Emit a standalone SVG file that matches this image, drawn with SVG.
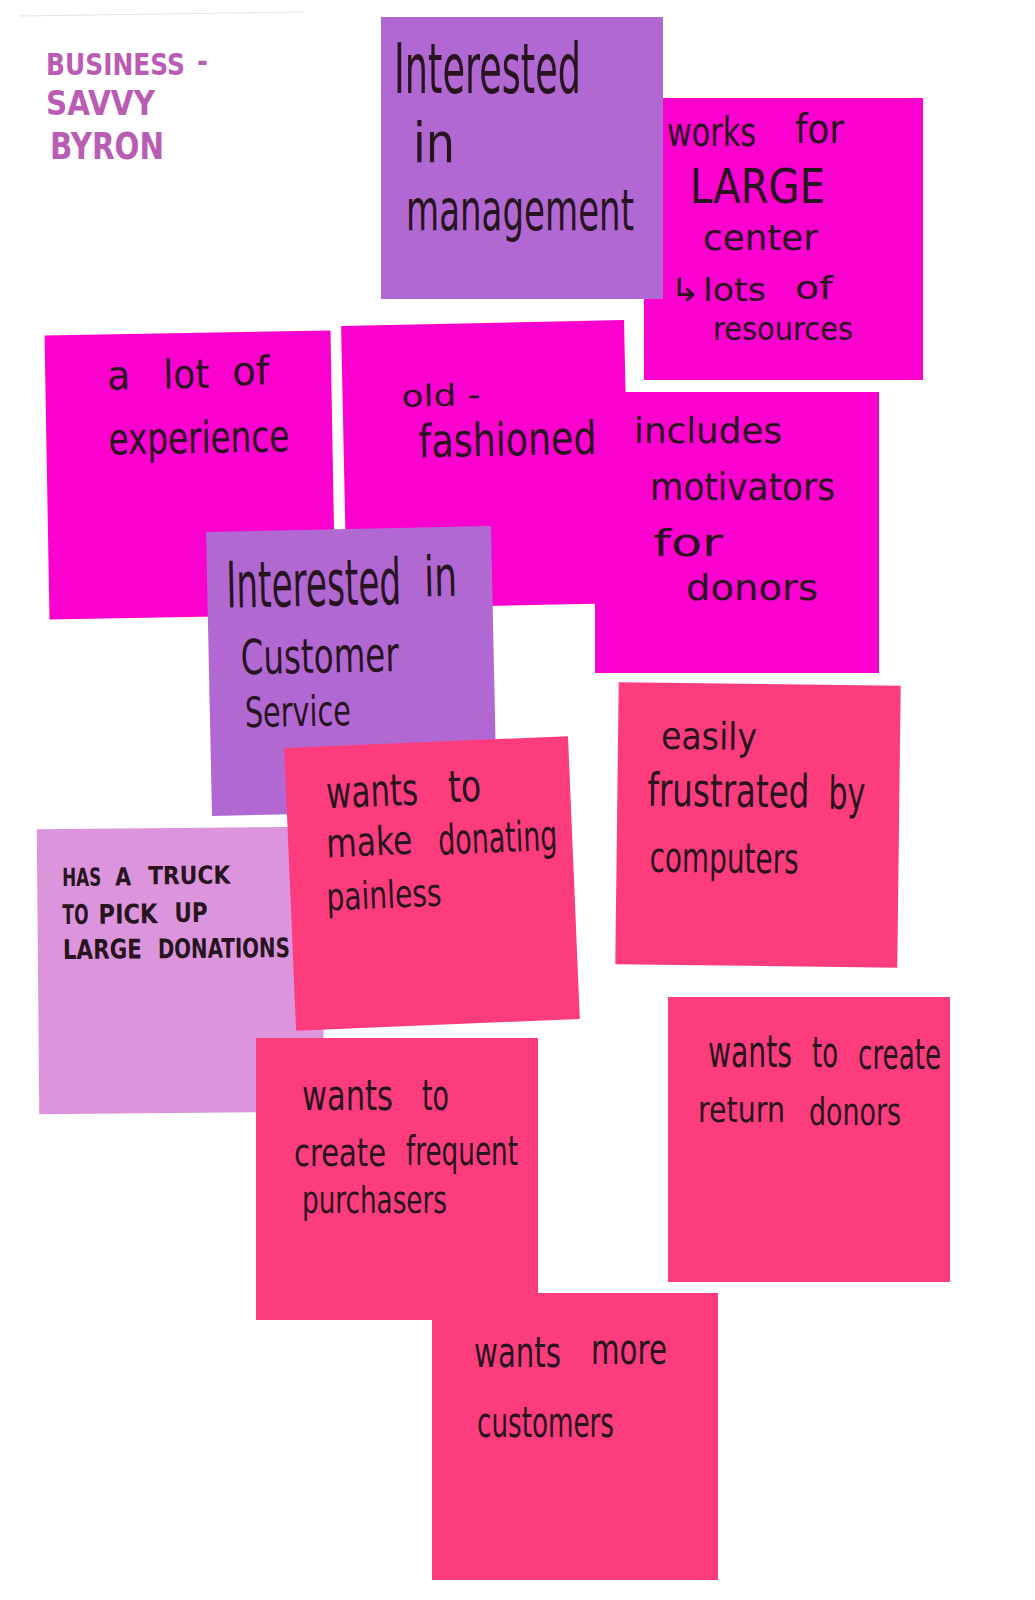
<svg xmlns="http://www.w3.org/2000/svg" width="1035" height="1600" viewBox="0 0 1035 1600">
  <style>
    .bg { fill: #ffffff; }
    .magenta { fill: #fc00cf; }
    .purple { fill: #b168d3; }
    .pink { fill: #fd3c7e; }
    .lavender { fill: #dc95dc; }
    .hw { font-family: "DejaVu Sans", "Liberation Sans", sans-serif; fill: #27141e; }
    .caps { font-weight: bold; }
    .title { font-family: "DejaVu Sans", "Liberation Sans", sans-serif; font-weight: bold; fill: #b95cb3; }
  </style>

  <rect class="bg" x="0" y="0" width="1035" height="1600"/>

  <!-- persona heading; words are drawn narrow and tall like marker lettering -->
  <g id="title">
    <line x1="20" y1="16" x2="303" y2="12" stroke="#e4e4e4" stroke-width="1"/>
    <text class="title" transform="translate(46 75) scale(1 1.25)" font-size="24" textLength="139" lengthAdjust="spacingAndGlyphs">BUSINESS</text>
    <text class="title" transform="translate(197 72) scale(1 1.17)" font-size="25.7" textLength="11" lengthAdjust="spacingAndGlyphs">-</text>
    <text class="title" transform="translate(46 115) scale(1 1.21)" font-size="28" textLength="109" lengthAdjust="spacingAndGlyphs">SAVVY</text>
    <text class="title" transform="translate(50 159) scale(1 1.36)" font-size="28" textLength="114" lengthAdjust="spacingAndGlyphs">BYRON</text>
  </g>

  <!-- works for LARGE center -->
  <g id="note-large-center">
    <rect class="magenta" x="644" y="98" width="279" height="282"/>
    <text class="hw" transform="translate(667 146) scale(1 1.36)" font-size="29.4" textLength="89" lengthAdjust="spacingAndGlyphs">works</text>
    <text class="hw" transform="translate(795 143) scale(1 1.16)" font-size="34.6" textLength="49" lengthAdjust="spacingAndGlyphs">for</text>
    <text class="hw" transform="translate(690 203) scale(1 1.22)" font-size="39.2" textLength="135" lengthAdjust="spacingAndGlyphs">LARGE</text>
    <text class="hw" transform="translate(703 250) scale(1 1.04)" font-size="34.7" textLength="115" lengthAdjust="spacingAndGlyphs">center</text>
    <text class="hw" transform="translate(670 301) scale(1 1)" font-size="32" textLength="30" lengthAdjust="spacingAndGlyphs">↳</text>
    <text class="hw" transform="translate(703 301) scale(1 1)" font-size="32" textLength="63" lengthAdjust="spacingAndGlyphs">lots</text>
    <text class="hw" transform="translate(795 299) scale(1 1)" font-size="32" textLength="38" lengthAdjust="spacingAndGlyphs">of</text>
    <text class="hw" transform="translate(713 340) scale(1 1.15)" font-size="27.8" textLength="140" lengthAdjust="spacingAndGlyphs">resources</text>
  </g>

  <!-- Interested in management -->
  <g id="note-management">
    <rect class="purple" x="381" y="17" width="282" height="282"/>
    <text class="hw" transform="translate(394 93) scale(1 1.98)" font-size="35.4" textLength="187" lengthAdjust="spacingAndGlyphs">Interested</text>
    <text class="hw" transform="translate(413 162) scale(1 1.25)" font-size="44.7" textLength="42" lengthAdjust="spacingAndGlyphs">in</text>
    <text class="hw" transform="translate(406 230) scale(1 1.7)" font-size="33" textLength="228" lengthAdjust="spacingAndGlyphs">management</text>
  </g>

  <!-- a lot of experience -->
  <g id="note-experience" transform="rotate(-1 190 475)">
    <rect class="magenta" x="47" y="333" width="286" height="284"/>
    <text class="hw" transform="translate(109 388) scale(1 1.1)" font-size="36.4" textLength="23" lengthAdjust="spacingAndGlyphs">a</text>
    <text class="hw" transform="translate(165 388) scale(1 1)" font-size="40" textLength="46" lengthAdjust="spacingAndGlyphs">lot</text>
    <text class="hw" transform="translate(234 386) scale(1 1.07)" font-size="37.2" textLength="37" lengthAdjust="spacingAndGlyphs">of</text>
    <text class="hw" transform="translate(109 453) scale(1 1.39)" font-size="31.6" textLength="181" lengthAdjust="spacingAndGlyphs">experience</text>
  </g>

  <!-- old-fashioned -->
  <g id="note-old-fashioned" transform="rotate(-1.2 485 464)">
    <rect class="magenta" x="344" y="323" width="283" height="283"/>
    <text class="hw" transform="translate(403 405) scale(1 1)" font-size="30" textLength="79" lengthAdjust="spacingAndGlyphs">old -</text>
    <text class="hw" transform="translate(419 456) scale(1 1.3)" font-size="35.3" textLength="178" lengthAdjust="spacingAndGlyphs">fashioned</text>
  </g>

  <!-- includes motivators for donors -->
  <g id="note-motivators">
    <rect class="magenta" x="595" y="392" width="284" height="281"/>
    <text class="hw" transform="translate(634 443) scale(1 1.04)" font-size="34.6" textLength="148" lengthAdjust="spacingAndGlyphs">includes</text>
    <text class="hw" transform="translate(650 500) scale(1 1.14)" font-size="33.2" textLength="185" lengthAdjust="spacingAndGlyphs">motivators</text>
    <text class="hw" transform="translate(653 556) scale(1 1)" font-size="38" textLength="70" lengthAdjust="spacingAndGlyphs">for</text>
    <text class="hw" transform="translate(686 600) scale(1 1)" font-size="36" textLength="132" lengthAdjust="spacingAndGlyphs">donors</text>
  </g>

  <!-- Interested in Customer Service -->
  <g id="note-customer-service" transform="rotate(-1.2 351 671)">
    <rect class="purple" x="209" y="529" width="285" height="284"/>
    <text class="hw" transform="translate(228 605) scale(1 1.93)" font-size="33.1" textLength="175" lengthAdjust="spacingAndGlyphs">Interested</text>
    <text class="hw" transform="translate(426 598) scale(1 1.6)" font-size="35" textLength="33" lengthAdjust="spacingAndGlyphs">in</text>
    <text class="hw" transform="translate(241 672) scale(1 1.52)" font-size="31.6" textLength="158" lengthAdjust="spacingAndGlyphs">Customer</text>
    <text class="hw" transform="translate(244 725) scale(1 1.51)" font-size="27.8" textLength="106" lengthAdjust="spacingAndGlyphs">Service</text>
  </g>

  <!-- easily frustrated by computers -->
  <g id="note-computers" transform="rotate(0.7 758 825)">
    <rect class="pink" x="617" y="684" width="282" height="282"/>
    <text class="hw" transform="translate(660 750) scale(1 1.18)" font-size="32.1" textLength="96" lengthAdjust="spacingAndGlyphs">easily</text>
    <text class="hw" transform="translate(647 807) scale(1 1.28)" font-size="35.9" textLength="162" lengthAdjust="spacingAndGlyphs">frustrated</text>
    <text class="hw" transform="translate(828 808) scale(1 1.57)" font-size="29.2" textLength="37" lengthAdjust="spacingAndGlyphs">by</text>
    <text class="hw" transform="translate(650 873) scale(1 1.55)" font-size="27" textLength="149" lengthAdjust="spacingAndGlyphs">computers</text>
  </g>

  <!-- HAS A TRUCK TO PICK UP LARGE DONATIONS -->
  <g id="note-truck" transform="rotate(-0.5 180 970)">
    <rect class="lavender" x="38" y="828" width="285" height="285"/>
    <text class="hw caps" transform="translate(63 885) scale(1 1.54)" font-size="16.2" textLength="39" lengthAdjust="spacingAndGlyphs">HAS</text>
    <text class="hw caps" transform="translate(116 885) scale(1 1.25)" font-size="20" textLength="16" lengthAdjust="spacingAndGlyphs">A</text>
    <text class="hw caps" transform="translate(149 884) scale(1 1.18)" font-size="21.1" textLength="82" lengthAdjust="spacingAndGlyphs">TRUCK</text>
    <text class="hw caps" transform="translate(63 923) scale(1 1.64)" font-size="16.5" textLength="26" lengthAdjust="spacingAndGlyphs">TO</text>
    <text class="hw caps" transform="translate(99 923) scale(1 1.23)" font-size="21.9" textLength="59" lengthAdjust="spacingAndGlyphs">PICK</text>
    <text class="hw caps" transform="translate(175 922) scale(1 1.3)" font-size="20.7" textLength="33" lengthAdjust="spacingAndGlyphs">UP</text>
    <text class="hw caps" transform="translate(63 958) scale(1 1.3)" font-size="20.8" textLength="79" lengthAdjust="spacingAndGlyphs">LARGE</text>
    <text class="hw caps" transform="translate(158 958) scale(1 1.42)" font-size="19" textLength="132" lengthAdjust="spacingAndGlyphs">DONATIONS</text>
  </g>

  <!-- wants to make donating painless -->
  <g id="note-painless" transform="rotate(-2.4 432 883)">
    <rect class="pink" x="290" y="742" width="284" height="283"/>
    <text class="hw" transform="translate(330 804) scale(1 1.47)" font-size="30" textLength="92" lengthAdjust="spacingAndGlyphs">wants</text>
    <text class="hw" transform="translate(452 803) scale(1 1.38)" font-size="31.9" textLength="33" lengthAdjust="spacingAndGlyphs">to</text>
    <text class="hw" transform="translate(328 853) scale(1 1.33)" font-size="30" textLength="86" lengthAdjust="spacingAndGlyphs">make</text>
    <text class="hw" transform="translate(440 855) scale(1 1.61)" font-size="26" textLength="119" lengthAdjust="spacingAndGlyphs">donating</text>
    <text class="hw" transform="translate(326 906) scale(1 1.4)" font-size="27.2" textLength="115" lengthAdjust="spacingAndGlyphs">painless</text>
  </g>

  <!-- wants to create return donors -->
  <g id="note-return-donors">
    <rect class="pink" x="668" y="997" width="282" height="285"/>
    <text class="hw" transform="translate(708 1067) scale(1 1.61)" font-size="27.4" textLength="84" lengthAdjust="spacingAndGlyphs">wants</text>
    <text class="hw" transform="translate(812 1067) scale(1 1.67)" font-size="25.1" textLength="26" lengthAdjust="spacingAndGlyphs">to</text>
    <text class="hw" transform="translate(858 1069) scale(1 1.67)" font-size="25.2" textLength="83" lengthAdjust="spacingAndGlyphs">create</text>
    <text class="hw" transform="translate(698 1122) scale(1 1.32)" font-size="27.2" textLength="87" lengthAdjust="spacingAndGlyphs">return</text>
    <text class="hw" transform="translate(809 1125) scale(1 1.46)" font-size="26" textLength="92" lengthAdjust="spacingAndGlyphs">donors</text>
  </g>

  <!-- wants more customers -->
  <g id="note-more-customers">
    <rect class="pink" x="432" y="1293" width="286" height="287"/>
    <text class="hw" transform="translate(474 1367) scale(1 1.48)" font-size="28.3" textLength="87" lengthAdjust="spacingAndGlyphs">wants</text>
    <text class="hw" transform="translate(591 1364) scale(1 1.49)" font-size="28.2" textLength="76" lengthAdjust="spacingAndGlyphs">more</text>
    <text class="hw" transform="translate(477 1437) scale(1 1.65)" font-size="25.4" textLength="137" lengthAdjust="spacingAndGlyphs">customers</text>
  </g>

  <!-- wants to create frequent purchasers -->
  <g id="note-frequent-purchasers">
    <rect class="pink" x="256" y="1038" width="282" height="282"/>
    <text class="hw" transform="translate(302 1110) scale(1 1.42)" font-size="29.6" textLength="91" lengthAdjust="spacingAndGlyphs">wants</text>
    <text class="hw" transform="translate(422 1110) scale(1 1.61)" font-size="26.1" textLength="27" lengthAdjust="spacingAndGlyphs">to</text>
    <text class="hw" transform="translate(294 1166) scale(1 1.43)" font-size="27.9" textLength="92" lengthAdjust="spacingAndGlyphs">create</text>
    <text class="hw" transform="translate(406 1165) scale(1 1.58)" font-size="25.3" textLength="112" lengthAdjust="spacingAndGlyphs">frequent</text>
    <text class="hw" transform="translate(302 1213) scale(1 1.5)" font-size="25.4" textLength="145" lengthAdjust="spacingAndGlyphs">purchasers</text>
  </g>
</svg>
